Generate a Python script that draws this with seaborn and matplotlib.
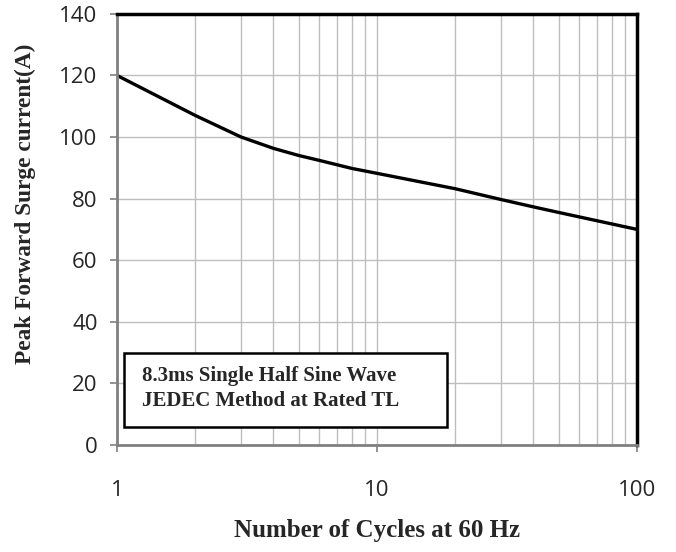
import matplotlib
matplotlib.use("Agg")
import matplotlib.pyplot as plt
import seaborn as sns
import pandas as pd
from matplotlib.ticker import FixedLocator, NullFormatter, LogLocator
from matplotlib.patches import Rectangle

cycles = [1, 2, 3, 4, 5, 6, 8, 10, 20, 30, 40, 50, 100]
surge = [120, 107, 100, 96.3, 94.0, 92.4, 89.8, 88.2, 83.2, 79.7, 77.3, 75.5, 70]
x_ticks = [1, 10, 100]
x_tick_labels = ["1", "10", "100"]
y_ticks = [0, 20, 40, 60, 80, 100, 120, 140]
note_lines = ["8.3ms Single Half Sine Wave", "JEDEC Method at Rated TL"]

sns.set_theme(style="white")
df = pd.DataFrame({"cycles": cycles, "surge": surge})

fig = plt.figure(figsize=(6.76, 5.52), dpi=100)
ax = fig.add_axes([0.173, 0.194, 0.769, 0.781])

ax.set_xscale("log")
ax.set_xlim(1, 100)
ax.set_ylim(0, 140)

ax.xaxis.set_major_locator(FixedLocator(x_ticks))
ax.xaxis.set_minor_locator(LogLocator(base=10, subs=range(2, 10)))
ax.xaxis.set_minor_formatter(NullFormatter())
ax.set_xticks(x_ticks)
ax.set_xticklabels(x_tick_labels, fontfamily="Open Sans", fontsize=16)
ax.set_yticks(y_ticks)
ax.set_yticklabels([str(v) for v in y_ticks], fontfamily="Open Sans", fontsize=16)

ax.grid(True, which="major", color="#bdbdbd", linewidth=1.0)
ax.grid(True, which="minor", axis="x", color="#bdbdbd", linewidth=1.0)
ax.set_axisbelow(True)

sns.lineplot(data=df, x="cycles", y="surge", ax=ax, color="black", linewidth=2.4, legend=False)

for s in ["top", "right"]:
    ax.spines[s].set_color("black")
    ax.spines[s].set_linewidth(2.5)
for s in ["left", "bottom"]:
    ax.spines[s].set_color("#808080")
    ax.spines[s].set_linewidth(2.0)
    ax.spines[s].set_visible(True)

ax.tick_params(axis="both", which="major", direction="out", length=5, width=1.2,
               color="#808080", bottom=True, left=True)
ax.tick_params(axis="x", which="major", pad=20)
ax.tick_params(axis="y", which="major", pad=9)
ax.tick_params(axis="x", which="minor", length=0)

ax.set_xlabel("Number of Cycles at 60 Hz", fontfamily="Liberation Serif",
              fontweight="bold", fontsize=18, labelpad=13)
ax.set_ylabel("Peak Forward Surge current(A)", fontfamily="Liberation Serif",
              fontweight="bold", fontsize=16.8, labelpad=14)
ax.yaxis.set_label_coords(-0.155, 0.56)

# note box
ax.add_patch(Rectangle((1.065, 5.9), 18.6 - 1.065, 29.7 - 5.9, facecolor="white",
                       edgecolor="black", linewidth=1.8, zorder=5))
ax.text(1.248, 18.3, "\n".join(note_lines), fontfamily="Liberation Serif",
        fontweight="bold", fontsize=15, va="center", ha="left", zorder=6,
        linespacing=1.3)

fig.savefig("out.png", dpi=100)
